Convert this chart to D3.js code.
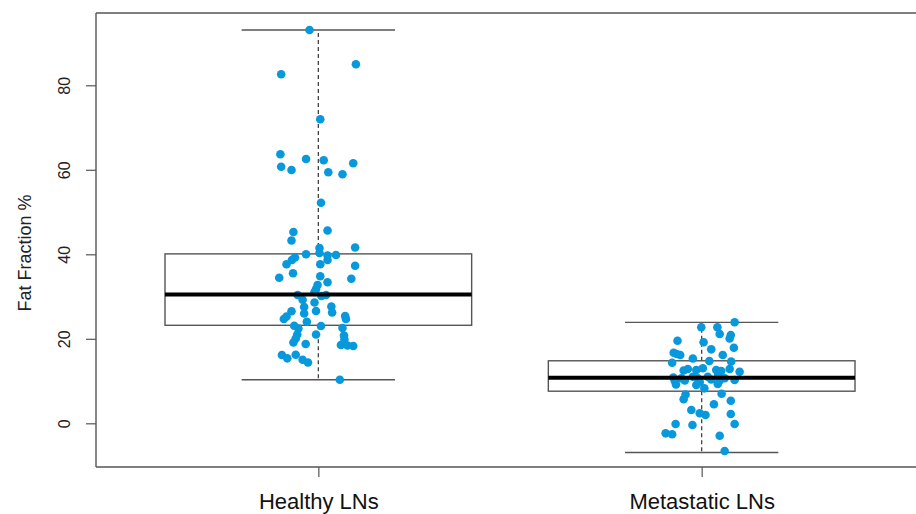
<!DOCTYPE html>
<html>
<head>
<meta charset="utf-8">
<script src="https://cdn.jsdelivr.net/npm/d3@7"></script>
<style>
  body { margin: 0; background: #fff; }
  text { font-family: "Liberation Sans", Arial, sans-serif; }
</style>
</head>
<body>
<script>
const groups = ["Healthy LNs", "Metastatic LNs"];
const yTicks = [0, 20, 40, 60, 80];

// box stats: lower whisker, q1, median, q3, upper whisker
const healthyStats = [10.3, 23.2, 30.5, 40.1, 93.1];
const metastaticStats = [-6.9, 7.6, 10.8, 14.8, 23.9];

// fat fraction values and horizontal jitter (in group units)
const healthyValues = [
  93.09, 84.97, 82.60, 71.95, 63.67, 62.56, 62.25, 61.54, 60.73, 59.95,
  59.41, 58.93, 52.21, 45.28, 45.63, 43.27, 41.49, 41.61, 40.00, 40.31,
  39.72, 39.83, 39.24, 38.65, 37.66, 37.63, 37.30, 38.65, 34.46, 35.50,
  34.79, 34.22, 33.37, 32.73, 31.74, 31.08, 30.37, 30.13, 30.37, 29.25,
  28.59, 27.64, 26.22, 27.53, 25.99, 26.51, 26.58, 25.28, 24.69, 25.40,
  24.69, 24.05, 23.10, 22.44, 23.03, 22.56, 21.02, 21.02, 20.07, 19.12,
  20.78, 19.83, 18.77, 18.53, 18.41, 18.30, 16.17, 15.38, 16.21, 15.05,
  14.39, 10.32
];
const healthyJitter = [
  -0.023, 0.098, -0.097, 0.005, -0.099, -0.032, 0.014, 0.091, -0.097, -0.070,
  0.026, 0.063, 0.007, -0.065, 0.024, -0.070, 0.003, 0.096, -0.032, 0.003,
  0.024, 0.046, -0.061, -0.069, -0.083, 0.005, 0.096, 0.024, -0.102, -0.066,
  0.005, 0.086, 0.024, -0.002, -0.006, -0.010, -0.054, 0.008, 0.020, -0.041,
  -0.010, 0.034, 0.036, -0.037, -0.037, -0.070, -0.006, -0.083, -0.090, 0.070,
  0.072, -0.030, -0.063, -0.052, 0.007, 0.063, -0.006, -0.055, -0.059, -0.065,
  0.067, 0.068, -0.033, 0.059, 0.076, 0.091, -0.095, -0.081, -0.059, -0.041,
  -0.027, 0.056
];
const metastaticValues = [
  23.91, 22.72, 22.72, 21.14, 20.90, 20.07, 19.55, 19.17, 17.89, 17.51,
  16.71, 16.40, 16.17, 15.34, 16.17, 14.34, 14.75, 14.63, 12.50, 12.85,
  12.62, 13.02, 12.62, 12.38, 12.85, 12.21, 10.84, 10.01, 9.18, 10.65,
  10.13, 11.03, 10.65, 9.78, 11.03, 10.37, 11.43, 10.13, 10.65, 10.25,
  9.30, 9.07, 8.28, 6.82, 5.68, 6.98, 5.35, 4.50, 3.15, 2.37,
  1.96, 2.20, -0.17, -0.40, -0.17, -2.37, -2.60, -2.93, -6.56
];
const metastaticJitter = [
  0.086, -0.001, 0.041, 0.047, 0.076, 0.073, -0.063, 0.005, 0.084, 0.025,
  -0.073, -0.065, -0.056, -0.023, 0.055, -0.077, 0.020, 0.077, -0.047, -0.036,
  -0.014, 0.003, 0.038, 0.051, 0.073, 0.099, -0.074, -0.070, -0.067, -0.053,
  -0.044, -0.023, -0.010, -0.005, 0.016, 0.025, 0.043, 0.047, 0.060, 0.086,
  0.042, -0.014, 0.007, -0.042, -0.047, 0.052, 0.076, 0.032, -0.027, -0.005,
  0.010, 0.076, -0.068, -0.024, 0.086, -0.094, -0.077, 0.047, 0.060
];

const W = 916, H = 514;
const margin = { left: 96, top: 13, bottom: 47 };

const svg = d3.select("body").append("svg")
  .attr("width", W)
  .attr("height", H);

// R style: groups at 1 and 2, 4% padding around 0.5..2.5
const x = d3.scaleLinear().domain([0.42, 2.58]).range([margin.left, 924]);
const y = d3.scaleLinear().domain([-10.34, 97.11]).range([H - margin.bottom, margin.top]);

const boxW = 0.8, capW = 0.4;
const stats = [healthyStats, metastaticStats];

stats.forEach((s, i) => {
  const c = i + 1;
  const g = svg.append("g");
  // whiskers
  g.append("line")
    .attr("x1", x(c)).attr("x2", x(c))
    .attr("y1", y(s[3])).attr("y2", y(s[4]))
    .attr("stroke", "#444").attr("stroke-width", 1.3)
    .attr("stroke-dasharray", "4,3");
  g.append("line")
    .attr("x1", x(c)).attr("x2", x(c))
    .attr("y1", y(s[1])).attr("y2", y(s[0]))
    .attr("stroke", "#444").attr("stroke-width", 1.3)
    .attr("stroke-dasharray", "4,3");
  [s[0], s[4]].forEach(v => {
    g.append("line")
      .attr("x1", x(c - capW / 2)).attr("x2", x(c + capW / 2))
      .attr("y1", y(v)).attr("y2", y(v))
      .attr("stroke", "#555").attr("stroke-width", 1.4);
  });
  // box
  g.append("rect")
    .attr("x", x(c - boxW / 2))
    .attr("y", y(s[3]))
    .attr("width", x(c + boxW / 2) - x(c - boxW / 2))
    .attr("height", y(s[1]) - y(s[3]))
    .attr("fill", "none")
    .attr("stroke", "#555").attr("stroke-width", 1.4);
});

// points
const pts = svg.append("g");
[[healthyValues, healthyJitter], [metastaticValues, metastaticJitter]].forEach((d, i) => {
  pts.selectAll(null)
    .data(d[0])
    .enter().append("circle")
    .attr("cx", (v, j) => x(i + 1 + d[1][j]))
    .attr("cy", v => y(v))
    .attr("r", 4.3)
    .attr("fill", "#0898dc");
});

// medians drawn on top of points
stats.forEach((s, i) => {
  const c = i + 1;
  svg.append("line")
    .attr("x1", x(c - boxW / 2)).attr("x2", x(c + boxW / 2))
    .attr("y1", y(s[2])).attr("y2", y(s[2]))
    .attr("stroke", "#000").attr("stroke-width", 4);
});

// frame
const frame = svg.append("g").attr("stroke", "#555").attr("stroke-width", 1.4);
frame.append("line").attr("x1", margin.left).attr("x2", W).attr("y1", margin.top).attr("y2", margin.top);
frame.append("line").attr("x1", margin.left).attr("x2", W).attr("y1", H - margin.bottom).attr("y2", H - margin.bottom);
frame.append("line").attr("x1", margin.left).attr("x2", margin.left).attr("y1", margin.top).attr("y2", H - margin.bottom);

// y axis
const yAxis = svg.append("g")
  .attr("transform", "translate(" + margin.left + ",0)")
  .call(d3.axisLeft(y).tickValues(yTicks).tickSize(10).tickPadding(0));
yAxis.select(".domain").remove();
yAxis.selectAll("line").attr("stroke", "#555").attr("stroke-width", 1.2);
yAxis.selectAll("text")
  .attr("x", 0).attr("y", 0).attr("dy", null)
  .attr("transform", "translate(-26,0) rotate(-90)")
  .attr("text-anchor", "middle")
  .attr("font-size", 16)
  .attr("fill", "#222")
  .attr("font-family", "Liberation Sans, Arial, sans-serif");

// x axis
const xAxis = svg.append("g")
  .attr("transform", "translate(0," + (H - margin.bottom) + ")")
  .call(d3.axisBottom(x).tickValues([1, 2]).tickSize(10).tickFormat(d => groups[d - 1]));
xAxis.select(".domain").remove();
xAxis.selectAll("line").attr("stroke", "#555").attr("stroke-width", 1.2);
xAxis.selectAll("text")
  .attr("y", 42).attr("dy", null)
  .attr("font-size", 22)
  .attr("fill", "#111")
  .attr("font-family", "Liberation Sans, Arial, sans-serif");

svg.append("text")
  .attr("transform", "translate(31," + ((margin.top + H - margin.bottom) / 2 + 13) + ") rotate(-90)")
  .attr("text-anchor", "middle")
  .attr("font-size", 18)
  .attr("fill", "#222")
  .text("Fat Fraction %");
</script>
</body>
</html>
